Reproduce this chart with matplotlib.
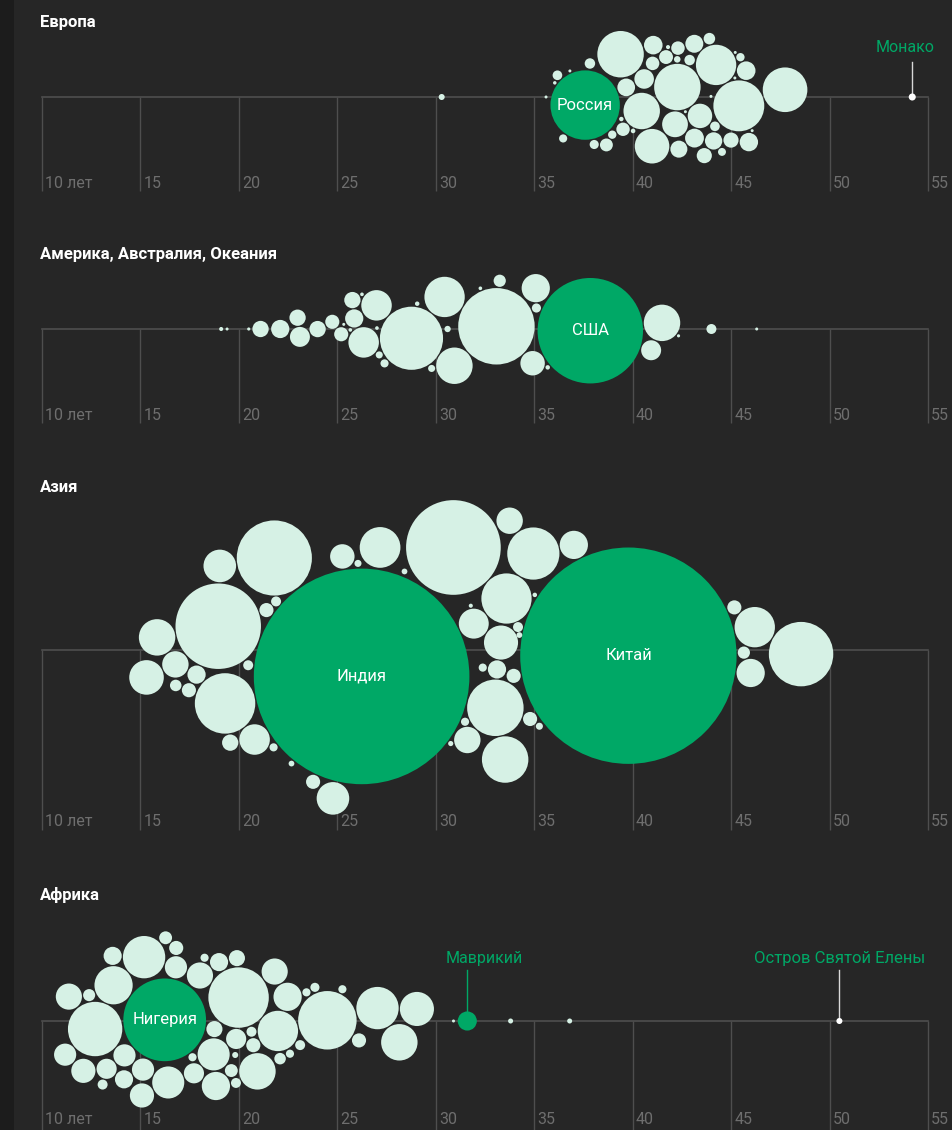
import numpy as np
import matplotlib
matplotlib.use('Agg')
import matplotlib.pyplot as plt
from matplotlib.patches import Circle, Rectangle

plt.rcParams['font.family'] = ['Roboto', 'DejaVu Sans']

# ---------------- data (median age in years, population in millions) -------------
tick_values = [10, 15, 20, 25, 30, 35, 40, 45, 50, 55]
tick_labels = ['10 лет', '15', '20', '25', '30', '35', '40', '45', '50', '55']

region_titles = ['Европа', 'Америка, Австралия, Океания', 'Азия', 'Африка']

europe_age = [37.9, 39.5, 42.3, 45.2, 47.4, 43.8, 40.2, 41.1, 43.5, 42.2, 41.5, 43.0,
              45.5, 45.3, 40.8, 43.2, 40.0, 44.2, 42.6, 43.6, 44.7, 41.8, 42.8, 41.2,
              39.6, 38.6, 44.0, 37.8, 42.5, 36.5, 44.5, 39.0, 44.6, 44.2, 42.4, 39.0,
              39.4, 42.0, 36.4, 43.0, 44.5, 45.6, 37.0, 44.0, 45.0, 35.6, 36.9, 38.2,
              30.3, 54.2]
europe_pop = [145, 65, 65, 78, 60, 49, 40, 36, 18, 20, 11.5, 10.7,
              10.4, 10.2, 10.4, 9.7, 9.4, 9.0, 8.7, 6.9, 6.9, 5.8, 5.5, 5.5,
              5.4, 5.0, 4.0, 3.3, 3.3, 2.8, 2.8, 2.1, 2.1, 1.9, 1.3, 0.6,
              0.63, 0.5, 0.37, 0.17, 0.09, 0.08, 0.05, 0.04, 0.034, 0.034, 2.0, 2.5,
              1.1, 1.5]

america_age = [37.8, 33.0, 28.8, 30.4, 31.0, 41.3, 27.3, 26.6, 35.6, 35.0, 40.8, 26.0,
               21.1, 22.1, 23.1, 23.0, 24.0, 24.8, 25.3, 26.0, 44.0, 33.2, 30.6, 27.5,
               27.9, 29.5, 35.3, 35.4, 27.0, 26.2, 19.1, 20.5, 25.6, 42.2, 46.3, 25.8,
               32.5, 29.0, 19.4]
america_pop = [335, 176, 120, 49, 40, 40, 28, 28, 24, 18, 12, 10,
               8, 10, 12, 8, 8, 6, 6, 8, 3, 4.5, 1.2, 1.5,
               2.0, 1.5, 2.5, 0.6, 0.4, 0.4, 0.5, 0.3, 0.2, 0.3, 0.1, 0.4,
               0.4, 0.6, 0.12]

asia_age = [26.6, 39.4, 30.5, 22.7, 19.0, 19.9, 31.8, 35.0, 33.1, 32.8, 48.4, 45.9,
            27.0, 16.2, 16.0, 19.4, 25.3, 33.2, 37.1, 45.3, 32.9, 21.7, 17.5, 25.5,
            31.7, 33.4, 34.4, 18.3, 44.9, 45.2, 20.4, 18.5, 20.7, 21.3, 24.7, 33.9,
            33.8, 33.6, 33.6, 34.2, 28.0, 29.5, 30.0, 23.5, 36.0, 32.0, 34.8, 24.0,
            22.2, 17.0, 26.0]
asia_pop = [1400, 1410, 270, 170, 220, 110, 96, 82, 76, 65, 125, 49,
            50, 40, 36, 32, 32, 35, 24, 24, 27, 28, 21, 18,
            21, 21, 10, 10, 6, 4.5, 8, 6, 3, 6, 6, 6,
            6, 3, 2, 1, 1, 0.8, 2, 2, 1.5, 0.5, 0.6, 1,
            3, 4, 1.5]

africa_age = [16.5, 12.9, 19.7, 24.3, 26.8, 28.8, 28.1, 21.8, 13.5, 15.6, 20.7, 18.4,
              16.2, 17.2, 18.9, 17.5, 11.8, 11.9, 13.0, 14.3, 14.0, 13.9, 14.4, 15.0,
              16.2, 17.7, 22.4, 20.9, 19.7, 18.7, 18.9, 19.2, 20.3, 12.3, 22.2, 25.6,
              18.5, 19.5, 15.5, 16.8, 20.0, 21.0, 19.0, 22.8, 23.5, 13.2, 17.9, 25.0,
              24.0, 20.6, 30.9, 33.8, 36.8, 31.6, 50.5]
africa_pop = [206, 89, 110, 103, 54, 35, 40, 49, 44, 54, 40, 31,
              17.6, 14.8, 24, 20.6, 20.6, 14.8, 17.6, 14.8, 12.2, 9.9, 9.9, 14.8,
              31, 12.2, 24, 20.6, 12.2, 9.9, 7.8, 7.8, 6.0, 4.4, 2.0, 6.0,
              2.0, 1.1, 5, 6, 5, 4, 3, 3, 2, 3, 2, 2,
              2.5, 3, 0.27, 0.76, 0.76, 11, 1.1]

# highlighted (green) countries: region index -> {data index: label}
green_labels = {0: {0: 'Россия'}, 1: {0: 'США'}, 2: {0: 'Индия', 1: 'Китай'},
                3: {0: 'Нигерия', 53: ''}}
# callouts: region index -> list of (data index, label)
callouts = {0: [(49, 'Монако')], 3: [(53, 'Маврикий'), (54, 'Остров Святой Елены')]}

# ---------------- style / layout ----------------
W, H = 953, 1130
BG = '#262626'
STRIP = '#1c1c1c'
MINT = '#d6f1e5'
GREEN = '#00a866'
GRID = '#4e4e4e'
TICKC = '#6e6e6e'
PPY = 886 / 45.0          # pixels per year
K = 8.3                   # px^2 of circle radius per million people
PAD = 1.2 / PPY

# panel geometry in px: top, bottom, axis line, title y, tick label y, grid bottom
panels = [
    (0, 200, 97, 22, 184, 191),
    (230, 432, 329, 255, 415, 423),
    (470, 840, 650, 488, 822, 830),
    (870, 1130, 1021, 895, 1120, 1130),
]

ages = [europe_age, america_age, asia_age, africa_age]
pops = [europe_pop, america_pop, asia_pop, africa_pop]


def swarm(xs, rs, pad):
    """Greedy beeswarm: biggest first, each at the free y nearest the axis."""
    order = np.argsort(-rs, kind='stable')
    ys = np.zeros(len(xs))
    placed = []
    for i in order:
        cands = [0.0]
        for j in placed:
            dx = xs[i] - xs[j]
            d = rs[i] + rs[j] + pad
            if abs(dx) < d:
                h = np.sqrt(d * d - dx * dx)
                cands += [ys[j] + h, ys[j] - h]
        cands.sort(key=lambda c: (round(abs(c), 9), -c))
        for c in cands:
            ok = True
            for j in placed:
                if (xs[i] - xs[j]) ** 2 + (c - ys[j]) ** 2 < (rs[i] + rs[j] + pad) ** 2 - 1e-9:
                    ok = False
                    break
            if ok:
                ys[i] = c
                break
        placed.append(i)
    return ys


def relax(xs, rs, ys0, pad, iters=500, kx=0.15, ky=0.04):
    """Force-style relaxation: pull to (age, 0), resolve collisions."""
    px = xs.copy()
    py = ys0.copy()
    r2 = rs ** 2
    wmat = r2[None, :] / (r2[:, None] + r2[None, :])
    minD = rs[:, None] + rs[None, :] + pad
    n = len(xs)
    for it in range(iters + 60):
        if it < iters:
            px += (xs - px) * kx
            py += (0 - py) * ky
        for _ in range(4):
            dx = px[:, None] - px[None, :]
            dy = py[:, None] - py[None, :]
            d = np.sqrt(dx * dx + dy * dy) + 1e-12
            ov = np.clip(minD - d, 0, None)
            ov[np.arange(n), np.arange(n)] = 0
            f = ov * wmat / d * 0.5
            px += (f * dx).sum(1)
            py += (f * dy).sum(1)
    return px, py


fig = plt.figure(figsize=(W / 100, H / 100), dpi=100)
fig.patch.set_facecolor(BG)
fig.add_artist(Rectangle((0, 0), 14 / W, 1, transform=fig.transFigure,
                         facecolor=STRIP, edgecolor='none', zorder=0))

x0 = 10 - 42 / PPY
x1 = x0 + W / PPY

for k, (top, bot, axy, ty, tly, gb) in enumerate(panels):
    ax = fig.add_axes([0, 1 - bot / H, 1, (bot - top) / H])
    ax.set_xlim(x0, x1)
    ax.set_ylim((axy - bot) / PPY, (axy - top) / PPY)
    ax.axis('off')
    ax.patch.set_alpha(0)

    def py(p):
        return (axy - p) / PPY

    # grid
    for t in tick_values:
        ax.plot([t, t], [0, py(gb)], color=GRID, lw=1.0, zorder=1,
                solid_capstyle='butt', clip_on=False)
    ax.plot([tick_values[0], tick_values[-1]], [0, 0], color=GRID, lw=1.2, zorder=1)
    for t, lab in zip(tick_values, tick_labels):
        ax.text(t + 3 / PPY, py(tly), lab, color=TICKC, fontsize=11.5,
                ha='left', va='center', zorder=1)

    fig.text(40 / W, 1 - ty / H, region_titles[k], color='white', fontsize=12,
             fontweight='bold', ha='left', va='center')

    xs = np.array(ages[k], float)
    rs = np.maximum(np.sqrt(K * np.array(pops[k], float)), 1.5) / PPY
    ys = swarm(xs, rs, PAD)
    cx, cy = relax(xs, rs, ys, PAD)

    greens = green_labels.get(k, {})
    call_idx = [c[0] for c in callouts.get(k, [])]
    for i in range(len(xs)):
        if i in greens:
            col = GREEN
        elif i in call_idx:
            col = 'white'
        else:
            col = MINT
        ax.add_patch(Circle((cx[i], cy[i]), rs[i], facecolor=col, edgecolor='none',
                            zorder=3, clip_on=False))
        if greens.get(i):
            ax.text(cx[i], cy[i], greens[i], color='white', fontsize=12,
                    ha='center', va='center', zorder=4)

    for (i, lab) in callouts.get(k, []):
        is_green = i in greens
        lcol = GREEN if is_green else '#d8d8d8'
        ytop = py(970) if k == 3 else py(62)
        ax.plot([cx[i], cx[i]], [cy[i] + rs[i], ytop], color=lcol, lw=1.0, zorder=2)
        if lab == 'Монако':
            ax.text(cx[i] + 22 / PPY, py(47), lab, color=GREEN, fontsize=11.5,
                    ha='right', va='center')
        elif lab == 'Маврикий':
            ax.text(cx[i] - 22 / PPY, py(959), lab, color=GREEN, fontsize=11.5,
                    ha='left', va='center')
        else:
            ax.text(cx[i], py(959), lab, color=GREEN, fontsize=12,
                    ha='center', va='center')

fig.savefig('out.png', dpi=100, facecolor=BG)
